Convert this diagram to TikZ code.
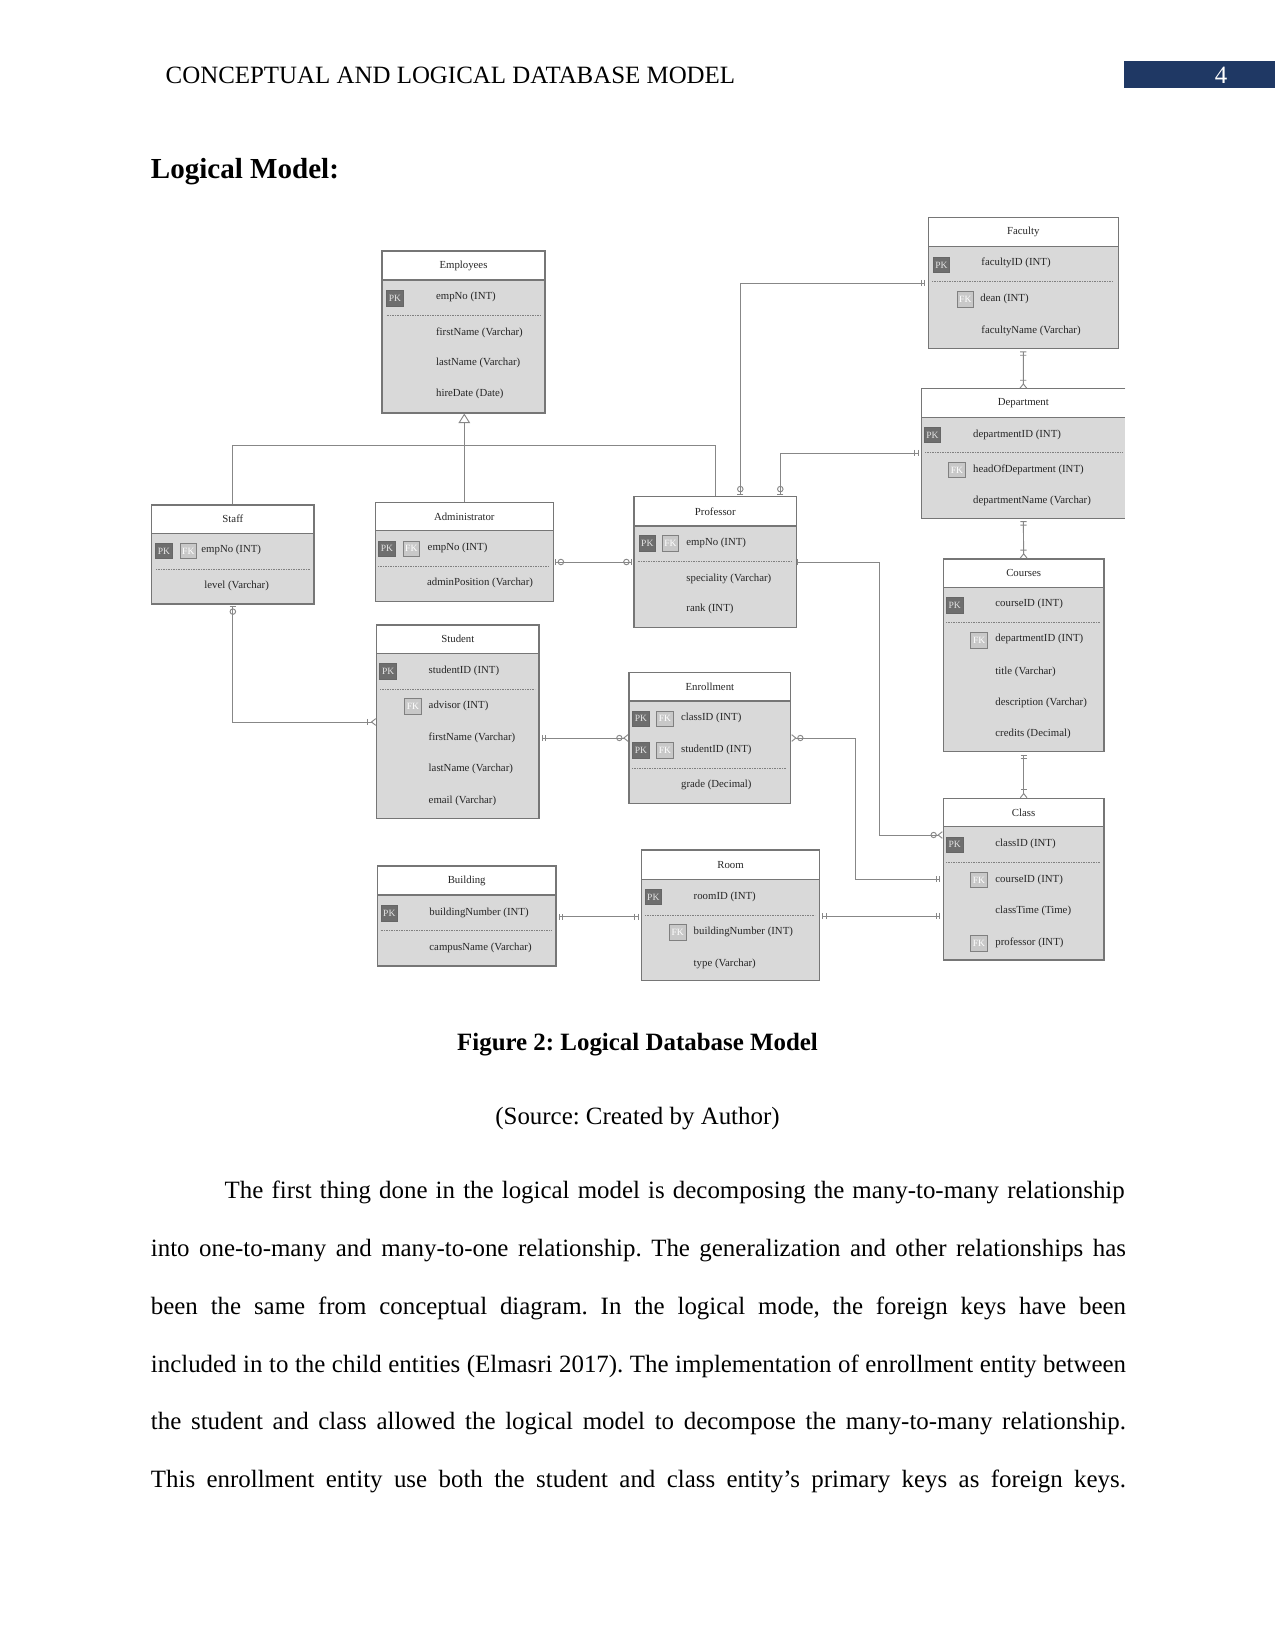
\documentclass[tikz,border=0pt]{standalone}
\usepackage{fontspec}
\setmainfont{Liberation Serif}
\frenchspacing
\usetikzlibrary{arrows.meta, fit}
\definecolor{hdrblue}{RGB}{31,56,100}
\definecolor{boxgray}{RGB}{217,217,217}
\definecolor{edgegray}{RGB}{118,118,118}
\definecolor{linegray}{RGB}{135,135,135}
\definecolor{pkgray}{RGB}{110,110,110}
\definecolor{fkgray}{RGB}{200,200,200}
\tikzset{
  Onlyone/.tip={Bar[width=3bp, sep=1.2bp] Bar[width=3bp, sep=1.2bp]},
  Zeroone/.tip={Circle[open, length=3.1bp, sep=0.6bp] Bar[width=3bp, sep=0.8bp]},
  Zeromany/.tip={Circle[open, length=3bp, sep=0.3bp] Straight Barb[reversed, length=2bp, width=3.2bp]},
  Onemany/.tip={Bar[width=3bp, sep=1.2bp] Straight Barb[reversed, length=2bp, width=3.2bp]}
}

\begin{document}
\begin{tikzpicture}[x=0.48bp, y=-0.48bp,
  title/.style={fill=white, draw=edgegray, line width=0.5bp, inner sep=0pt},
  entname/.style={label={[font=\fontsize{5.2}{6}\selectfont, text=black!85, inner sep=0pt]center:#1}},
  body/.style={fill=boxgray, draw=edgegray, line width=0.5bp, inner sep=0pt},
  row/.style={anchor=west, inner sep=0pt, font=\fontsize{5.2}{6}\selectfont, text=black!85},
  pk/.style={fill=pkgray, draw=black!60, line width=0.4bp, minimum width=8bp, minimum height=7.4bp, inner sep=0pt, text=white!80!gray, font=\fontsize{4.6}{5}\selectfont},
  fk/.style={pk, fill=fkgray, draw=gray, text=white},
  sep/.style={draw=gray, line width=0.3bp, dash pattern=on 0.5bp off 0.3bp},
  conn/.style={draw=linegray, line width=0.45bp},
  isa/.style={conn, -{Triangle[open, length=4.6bp, width=5.6bp]}},
  page/.style={anchor=west, inner sep=0pt, font=\fontsize{12}{14}\selectfont}]

\useasboundingbox (0,0) rectangle (1275,1651);

\node[page] (running) at (165.3,75.7) {CONCEPTUAL AND LOGICAL DATABASE MODEL};
\node[fill=hdrblue, inner sep=0pt, fit={(1124.4,61) (1275,88.4)}] (pgbox) {};
\node[page, anchor=center, text=white] (pgno) at (1221,75.7) {4};
\node[page, font=\fontsize{14}{16}\selectfont\bfseries] (heading) at (150.5,171.4) {Logical Model:};

\node[title, entname=Employees, fit={(382,251) (545,280)}] (emp) {};
\node[body, fit={(382,280) (545,413)}] (empb) {};
\node[pk] (emppk) at (395,298.5) {PK};
\node[row] (emp1) at (435.7,297) {empNo (INT)};
\draw[sep] (386.7,315.7) -- (541,315.7);
\node[row] (emp2) at (435.7,332.7) {firstName (Varchar)};
\node[row] (emp3) at (435.7,363.3) {lastName (Varchar)};
\node[row] (emp4) at (435.7,394.3) {hireDate (Date)};

\node[title, entname=Faculty, fit={(928.3,217.7) (1118.3,246.3)}] (fac) {};
\node[body, fit={(928.3,246.3) (1118.3,348.3)}] (facb) {};
\node[pk] (facpk) at (941.5,265) {PK};
\node[row] (fac1) at (981,263.3) {facultyID (INT)};
\draw[sep] (932,281.7) -- (1113,281.7);
\node[fk] (facfk) at (965.3,299.5) {FK};
\node[row] (fac2) at (980,299) {dean (INT)};
\node[row] (fac3) at (981,330.7) {facultyName (Varchar)};

\node[fill=white, inner sep=0pt, entname=Department, fit={(921.7,389) (1125,416.7)}] (dep) {};
\node[fill=boxgray, inner sep=0pt, fit={(921.7,416.7) (1125,518.3)}] (depb) {};
\draw[edgegray, line width=0.5bp] (dep.north east) -- (dep.north west) -- (depb.south west) -- (depb.south east);
\draw[edgegray, line width=0.5bp] (dep.south west) -- (dep.south east);
\node[pk] (deppk) at (932.5,435) {PK};
\node[row] (dep1) at (972.7,435) {departmentID (INT)};
\draw[sep] (925,452.3) -- (1122,452.3);
\node[fk] (depfk) at (957,470) {FK};
\node[row] (dep2) at (972.7,470) {headOfDepartment (INT)};
\node[row] (dep3) at (972.7,501) {departmentName (Varchar)};

\node[title, entname=Staff, fit={(151.7,505) (314,533.3)}] (staff) {};
\node[body, fit={(151.7,533.3) (314,604)}] (staffb) {};
\node[pk] (staffpk) at (164,551) {PK};
\node[fk] (stafffk) at (188.3,551) {FK};
\node[row] (staff1) at (201,550) {empNo (INT)};
\draw[sep] (156,569) -- (310,569);
\node[row] (staff2) at (204,585.7) {level (Varchar)};

\node[title, entname=Administrator, fit={(375.3,502.7) (553.3,530.7)}] (adm) {};
\node[body, fit={(375.3,530.7) (553.3,601.7)}] (admb) {};
\node[pk] (admpk) at (387,548.7) {PK};
\node[fk] (admfk) at (411.3,548.7) {FK};
\node[row] (adm1) at (427.3,548) {empNo (INT)};
\draw[sep] (378,566) -- (549,566);
\node[row] (adm2) at (426.7,583.3) {adminPosition (Varchar)};

\node[title, entname=Professor, fit={(634,496.7) (796.7,526)}] (prof) {};
\node[body, fit={(634,526) (796.7,627.3)}] (profb) {};
\node[pk] (profpk) at (647.3,543.3) {PK};
\node[fk] (proffk) at (670.5,543.3) {FK};
\node[row] (prof1) at (686,543.3) {empNo (INT)};
\draw[sep] (637.7,561.7) -- (792,561.7);
\node[row] (prof2) at (686,579) {speciality (Varchar)};
\node[row] (prof3) at (686,609.3) {rank (INT)};

\node[title, entname=Courses, fit={(943.3,559) (1104,587.3)}] (crs) {};
\node[body, fit={(943.3,587.3) (1104,751.7)}] (crsb) {};
\node[pk] (crspk) at (954.7,605.3) {PK};
\node[row] (crs1) at (995,604.3) {courseID (INT)};
\draw[sep] (946,622.7) -- (1100,622.7);
\node[fk] (crsfk) at (979.2,640.5) {FK};
\node[row] (crs2) at (995,639.3) {departmentID (INT)};
\node[row] (crs3) at (995,671.7) {title (Varchar)};
\node[row] (crs4) at (995,703.3) {description (Varchar)};
\node[row] (crs5) at (995,734) {credits (Decimal)};

\node[title, entname=Class, fit={(943.3,798.7) (1104,826.7)}] (cls) {};
\node[body, fit={(943.3,826.7) (1104,960)}] (clsb) {};
\node[pk] (clspk) at (954.7,844.7) {PK};
\node[row] (cls1) at (995,844) {classID (INT)};
\draw[sep] (946,862.3) -- (1100,862.3);
\node[fk] (clsfk1) at (979,880) {FK};
\node[row] (cls2) at (995,880) {courseID (INT)};
\node[row] (cls3) at (995,910.7) {classTime (Time)};
\node[fk] (clsfk2) at (979,943.3) {FK};
\node[row] (cls4) at (995,943.3) {professor (INT)};

\node[title, entname=Student, fit={(376.7,625) (539,653.3)}] (stu) {};
\node[body, fit={(376.7,653.3) (539,818.3)}] (stub) {};
\node[pk] (stupk) at (388.2,671.3) {PK};
\node[row] (stu1) at (428.3,670.7) {studentID (INT)};
\draw[sep] (380,689) -- (535,689);
\node[fk] (stufk) at (413,706.3) {FK};
\node[row] (stu2) at (428.3,706) {advisor (INT)};
\node[row] (stu3) at (428.3,737.7) {firstName (Varchar)};
\node[row] (stu4) at (428.3,769.3) {lastName (Varchar)};
\node[row] (stu5) at (428.3,800.7) {email (Varchar)};

\node[title, entname=Enrollment, fit={(629,672.7) (790.7,701)}] (enr) {};
\node[body, fit={(629,701) (790.7,803.3)}] (enrb) {};
\node[pk] (enrpk1) at (641,718.8) {PK};
\node[fk] (enrfk1) at (665,718.8) {FK};
\node[row] (enr1) at (680.7,718.3) {classID (INT)};
\node[pk] (enrpk2) at (641,750.5) {PK};
\node[fk] (enrfk2) at (665,750.5) {FK};
\node[row] (enr2) at (680.7,750) {studentID (INT)};
\draw[sep] (632,768.3) -- (786,768.3);
\node[row] (enr3) at (680.7,785) {grade (Decimal)};

\node[title, entname=Building, fit={(377.3,866) (556,895)}] (bld) {};
\node[body, fit={(377.3,895) (556,966)}] (bldb) {};
\node[pk] (bldpk) at (389.3,913.3) {PK};
\node[row] (bld1) at (429,912.7) {buildingNumber (INT)};
\draw[sep] (380.7,930.7) -- (551.7,930.7);
\node[row] (bld2) at (429,948.3) {campusName (Varchar)};

\node[title, entname=Room, fit={(641.7,850) (819.3,879.3)}] (room) {};
\node[body, fit={(641.7,879.3) (819.3,980.7)}] (roomb) {};
\node[pk] (roompk) at (653.3,897) {PK};
\node[row] (room1) at (693.3,896.7) {roomID (INT)};
\draw[sep] (645,915) -- (815,915);
\node[fk] (roomfk) at (677.7,932.3) {FK};
\node[row] (room2) at (693.3,931.7) {buildingNumber (INT)};
\node[row] (room3) at (693.3,964) {type (Varchar)};

\draw[isa] (adm.north) -- (adm.north |- empb.south);
\draw[conn] (staff.north) -- (staff.north |- 0,445) -| (prof.north);

\draw[conn, {Onlyone[]}-{Zeroone[]}] (facb.west |- 0,283) -| (740.3,0 |- prof.north);
\draw[conn, {Onlyone[]}-{Zeroone[]}] (depb.west |- 0,453) -| (780.3,0 |- prof.north);
\draw[conn, {Onlyone[]}-{Onemany[]}] (facb.south) -- (dep.north);
\draw[conn, {Onlyone[]}-{Onemany[]}] (depb.south) -- (crs.north);
\draw[conn, {Onlyone[]}-{Onemany[]}] (crsb.south) -- (cls.north);
\draw[conn, {Zeroone[]}-{Zeroone[]}] (admb.east |- 0,562) -- (profb.west |- 0,562);
\draw[conn, {Zeroone[]}-{Onemany[]}] (staffb.south) |- (stub.west |- 0,722);
\draw[conn, {Onlyone[]}-{Zeromany[]}] (stub.east |- 0,738) -- (enrb.west |- 0,738);
\draw[conn, {Zeromany[]}-{Onlyone[]}] (enrb.east |- 0,738) -- (855.7,738) |- (clsb.west |- 0,879.3);
\draw[conn, {Bar[width=3bp]}-{Zeromany[]}] (profb.east |- 0,562) -- (879.3,562) |- (clsb.west |- 0,835);
\draw[conn, {Onlyone[]}-{Onlyone[]}] (roomb.east |- 0,916) -- (clsb.west |- 0,916);
\draw[conn, {Onlyone[]}-{Onlyone[]}] (bldb.east |- 0,916.7) -- (roomb.west |- 0,916.7);

\node[page, anchor=center, font=\fontsize{12}{14}\selectfont\bfseries] (caption) at (637.5,1045) {Figure 2: Logical Database Model};
\node[page, anchor=center] (source) at (637.5,1119) {(Source: Created by Author)};

\node[page] (l1) at (224.3,1192.7) {\makebox[432bp][s]{The first thing done in the logical model is decomposing the many-to-many relationship}};
\node[page] (l2) at (150.5,1250.6) {\makebox[468bp][s]{into one-to-many and many-to-one relationship. The generalization and other relationships has}};
\node[page] (l3) at (150.5,1308.5) {\makebox[468bp][s]{been the same from conceptual diagram. In the logical mode, the foreign keys have been}};
\node[page] (l4) at (150.5,1366.4) {\makebox[468bp][s]{included in to the child entities (Elmasri 2017). The implementation of enrollment entity between}};
\node[page] (l5) at (150.5,1423.2) {\makebox[468bp][s]{the student and class allowed the logical model to decompose the many-to-many relationship.}};
\node[page] (l6) at (150.5,1481.1) {\makebox[468bp][s]{This enrollment entity use both the student and class entity’s primary keys as foreign keys.}};
\end{tikzpicture}
\end{document}
